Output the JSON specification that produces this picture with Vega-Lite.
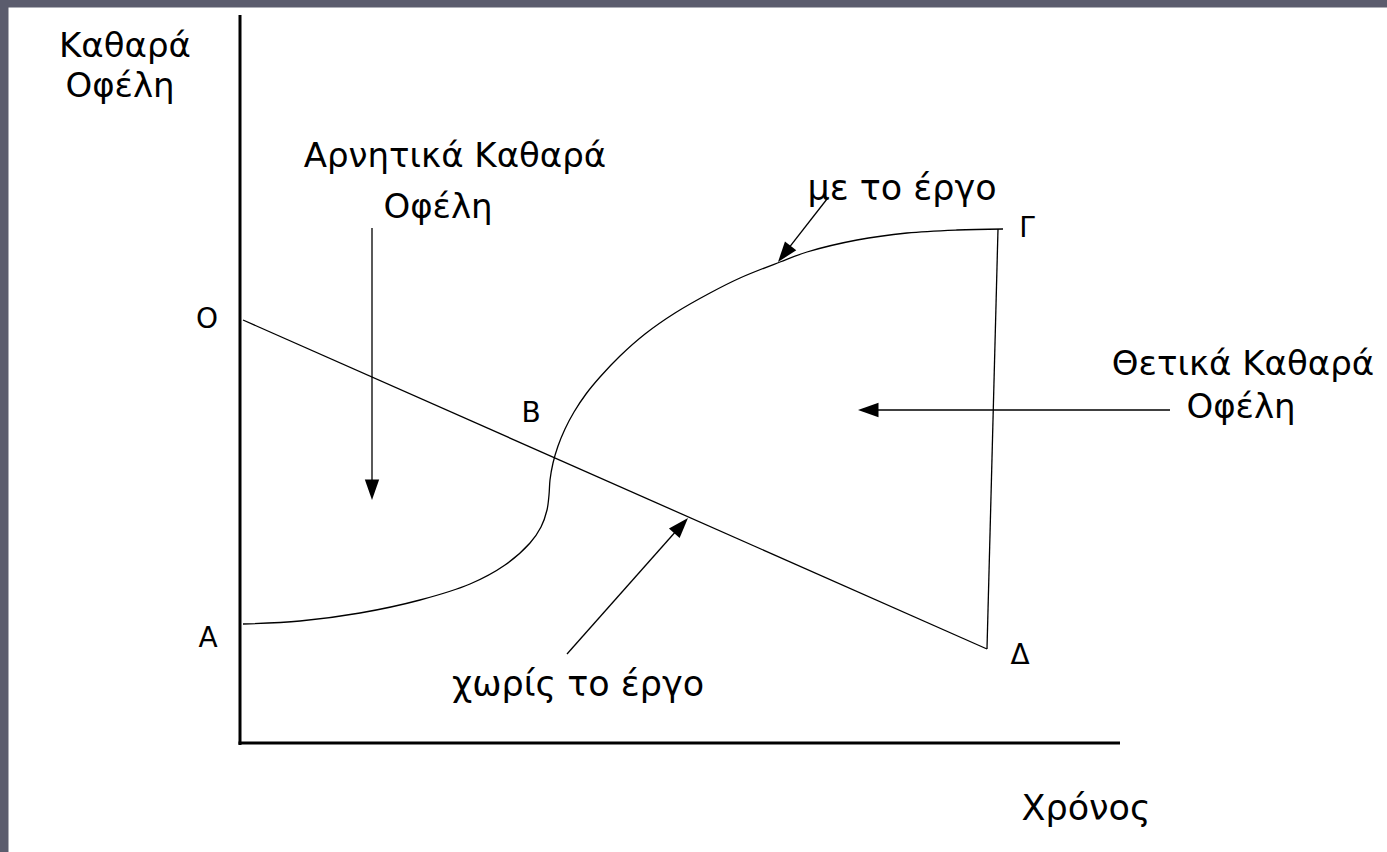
{
  "$schema": "https://vega.github.io/schema/vega-lite/v6.json",
  "autosize": {"type": "fit", "contains": "padding"},
  "width": 1387,
  "height": 852,
  "padding": 0,
  "background": "#5b5c6d",
  "config": {"view": {"stroke": null}},
  "datasets": {
    "frame": [{"x": -231.5, "x2": 1147, "y": -109, "y2": 735.5}],
    "axes": [
      {"x": 0, "y": -2, "x2": 0, "y2": 728},
      {"x": -1.5, "y": 0, "x2": 880, "y2": 0}
    ],
    "segments": [
      {"name": "χωρίς το έργο", "x": 3, "y": 423, "x2": 747, "y2": 94},
      {"name": "Γ-Δ", "x": 758, "y": 514, "x2": 747, "y2": 94},
      {"name": "arrow Αρνητικά", "x": 132, "y": 515, "x2": 132, "y2": 246},
      {"name": "arrow Θετικά", "x": 930, "y": 333, "x2": 622, "y2": 333},
      {"name": "arrow με", "x": 587, "y": 544, "x2": 541, "y2": 485},
      {"name": "arrow χωρίς", "x": 327, "y": 89, "x2": 445, "y2": 222}
    ],
    "curve": [
      {"i": 0, "x": 3, "y": 119},
      {"i": 1, "x": 60, "y": 122},
      {"i": 2, "x": 120, "y": 130},
      {"i": 3, "x": 180, "y": 143},
      {"i": 4, "x": 230, "y": 159},
      {"i": 5, "x": 265, "y": 178},
      {"i": 6, "x": 290, "y": 200},
      {"i": 7, "x": 301, "y": 216},
      {"i": 8, "x": 307, "y": 233},
      {"i": 9, "x": 309, "y": 248},
      {"i": 10, "x": 310, "y": 263},
      {"i": 11, "x": 313, "y": 280},
      {"i": 12, "x": 318, "y": 297},
      {"i": 13, "x": 325, "y": 314},
      {"i": 14, "x": 334, "y": 331},
      {"i": 15, "x": 346, "y": 349},
      {"i": 16, "x": 360, "y": 366},
      {"i": 17, "x": 380, "y": 387},
      {"i": 18, "x": 405, "y": 409},
      {"i": 19, "x": 435, "y": 430},
      {"i": 20, "x": 470, "y": 450},
      {"i": 21, "x": 500, "y": 465},
      {"i": 22, "x": 540, "y": 481},
      {"i": 23, "x": 567, "y": 491},
      {"i": 24, "x": 617, "y": 503},
      {"i": 25, "x": 667, "y": 510},
      {"i": 26, "x": 717, "y": 513},
      {"i": 27, "x": 763, "y": 514}
    ],
    "heads": [
      {"x": 132, "y": 243, "angle": 180},
      {"x": 618, "y": 333, "angle": 270},
      {"x": 538, "y": 481, "angle": 218},
      {"x": 448, "y": 225, "angle": 42}
    ],
    "labels": [
      {"text": "Καθαρά", "x": -115, "y": 686},
      {"text": "Οφέλη", "x": -120, "y": 646},
      {"text": "Αρνητικά Καθαρά", "x": 215, "y": 576},
      {"text": "Οφέλη", "x": 198, "y": 525},
      {"text": "Θετικά Καθαρά", "x": 1003, "y": 368},
      {"text": "Οφέλη", "x": 1001, "y": 325}
    ],
    "bigLabels": [
      {"text": "με το έργο", "x": 662, "y": 543},
      {"text": "χωρίς το έργο", "x": 338, "y": 47},
      {"text": "Χρόνος", "x": 846, "y": -77}
    ],
    "letters": [
      {"text": "O", "x": -33, "y": 415},
      {"text": "B", "x": 291, "y": 321},
      {"text": "A", "x": -32, "y": 96},
      {"text": "Δ", "x": 780, "y": 79},
      {"text": "Γ", "x": 787, "y": 506}
    ]
  },
  "layer": [
    {
      "data": {"name": "frame"},
      "mark": {"type": "rect", "color": "#ffffff"},
      "encoding": {
        "x": {"field": "x", "type": "quantitative", "scale": {"domain": [-240, 1147], "nice": false, "zero": false}, "axis": null},
        "x2": {"field": "x2"},
        "y": {"field": "y", "type": "quantitative", "scale": {"domain": [-109, 743], "nice": false, "zero": false}, "axis": null},
        "y2": {"field": "y2"}
      }
    },
    {
      "data": {"name": "axes"},
      "mark": {"type": "rule", "color": "#000000", "strokeWidth": 3},
      "encoding": {
        "x": {"field": "x", "type": "quantitative", "scale": {"domain": [-240, 1147], "nice": false, "zero": false}, "axis": null},
        "x2": {"field": "x2"},
        "y": {"field": "y", "type": "quantitative", "scale": {"domain": [-109, 743], "nice": false, "zero": false}, "axis": null},
        "y2": {"field": "y2"}
      }
    },
    {
      "data": {"name": "segments"},
      "mark": {"type": "rule", "color": "#000000", "strokeWidth": 1.3},
      "encoding": {
        "x": {"field": "x", "type": "quantitative", "scale": {"domain": [-240, 1147], "nice": false, "zero": false}, "axis": null},
        "x2": {"field": "x2"},
        "y": {"field": "y", "type": "quantitative", "scale": {"domain": [-109, 743], "nice": false, "zero": false}, "axis": null},
        "y2": {"field": "y2"}
      }
    },
    {
      "data": {"name": "curve"},
      "mark": {"type": "line", "color": "#000000", "strokeWidth": 1.3, "interpolate": "catmull-rom"},
      "encoding": {
        "x": {"field": "x", "type": "quantitative", "scale": {"domain": [-240, 1147], "nice": false, "zero": false}, "axis": null},
        "y": {"field": "y", "type": "quantitative", "scale": {"domain": [-109, 743], "nice": false, "zero": false}, "axis": null},
        "order": {"field": "i", "type": "quantitative"}
      }
    },
    {
      "data": {"name": "heads"},
      "mark": {"type": "point", "shape": "M0,0L0.7,2L-0.7,2Z", "filled": true, "color": "#000000", "opacity": 1, "size": 420, "strokeWidth": 0},
      "encoding": {
        "x": {"field": "x", "type": "quantitative", "scale": {"domain": [-240, 1147], "nice": false, "zero": false}, "axis": null},
        "y": {"field": "y", "type": "quantitative", "scale": {"domain": [-109, 743], "nice": false, "zero": false}, "axis": null},
        "angle": {"field": "angle", "type": "quantitative", "scale": null}
      }
    },
    {
      "data": {"name": "labels"},
      "mark": {"type": "text", "font": "DejaVu Sans", "fontSize": 34, "color": "#000000", "align": "center", "baseline": "alphabetic"},
      "encoding": {
        "x": {"field": "x", "type": "quantitative", "scale": {"domain": [-240, 1147], "nice": false, "zero": false}, "axis": null},
        "y": {"field": "y", "type": "quantitative", "scale": {"domain": [-109, 743], "nice": false, "zero": false}, "axis": null},
        "text": {"field": "text"}
      }
    },
    {
      "data": {"name": "bigLabels"},
      "mark": {"type": "text", "font": "DejaVu Sans", "fontSize": 35, "color": "#000000", "align": "center", "baseline": "alphabetic"},
      "encoding": {
        "x": {"field": "x", "type": "quantitative", "scale": {"domain": [-240, 1147], "nice": false, "zero": false}, "axis": null},
        "y": {"field": "y", "type": "quantitative", "scale": {"domain": [-109, 743], "nice": false, "zero": false}, "axis": null},
        "text": {"field": "text"}
      }
    },
    {
      "data": {"name": "letters"},
      "mark": {"type": "text", "font": "DejaVu Sans", "fontSize": 28, "color": "#000000", "align": "center", "baseline": "alphabetic"},
      "encoding": {
        "x": {"field": "x", "type": "quantitative", "scale": {"domain": [-240, 1147], "nice": false, "zero": false}, "axis": null},
        "y": {"field": "y", "type": "quantitative", "scale": {"domain": [-109, 743], "nice": false, "zero": false}, "axis": null},
        "text": {"field": "text"}
      }
    }
  ]
}
